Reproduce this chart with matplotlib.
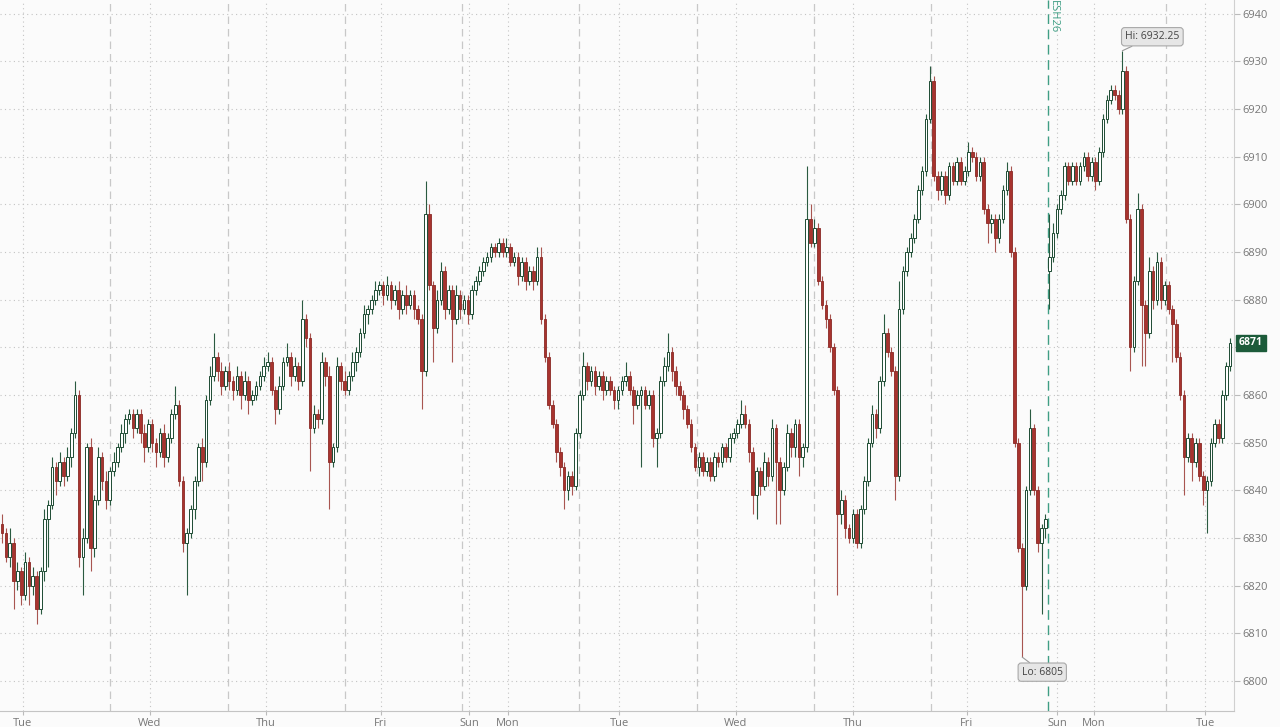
import numpy as np
import matplotlib.pyplot as plt

plt.rcParams['font.family'] = ['Open Sans', 'DejaVu Sans']

# closing prices, one per candle (10 per row)
closes = [
    6831, 6826, 6829, 6821, 6823, 6818, 6825, 6820, 6822, 6815,
    6823, 6834, 6837, 6845, 6842, 6846, 6843, 6847, 6852, 6860,
    6826, 6830, 6849, 6828, 6838, 6847, 6842, 6838, 6844, 6846,
    6849, 6852, 6855, 6856, 6853, 6856, 6852, 6849, 6854, 6850,
    6848, 6852, 6847, 6851, 6856, 6858, 6842, 6829, 6831, 6836,
    6842, 6849, 6846, 6859, 6864, 6868, 6865, 6862, 6865, 6863,
    6861, 6864, 6860, 6863, 6859, 6860, 6862, 6864, 6866, 6867,
    6861, 6857, 6862, 6867, 6868, 6864, 6866, 6863, 6876, 6872,
    6853, 6856, 6855, 6867, 6864, 6846, 6849, 6866, 6863, 6861,
    6864, 6867, 6869, 6873, 6877, 6878, 6880, 6882, 6883, 6881,
    6883, 6880, 6882, 6878, 6881, 6879, 6881, 6878, 6876, 6865,
    6898, 6883, 6874, 6880, 6886, 6878, 6882, 6876, 6881, 6878,
    6880, 6877, 6882, 6884, 6886, 6888, 6889, 6891, 6890, 6892,
    6890, 6891, 6888, 6889, 6885, 6888, 6884, 6886, 6884, 6889,
    6876, 6868, 6858, 6854, 6848, 6845, 6840, 6843, 6841, 6852,
    6860, 6866, 6863, 6865, 6862, 6864, 6861, 6863, 6861, 6859,
    6861, 6863, 6864, 6861, 6858, 6860, 6861, 6858, 6860, 6851,
    6852, 6863, 6866, 6869, 6865, 6862, 6860, 6857, 6854, 6849,
    6845, 6847, 6844, 6846, 6843, 6847, 6846, 6849, 6847, 6851,
    6852, 6854, 6856, 6854, 6848, 6839, 6844, 6841, 6846, 6843,
    6853, 6846, 6840, 6845, 6852, 6849, 6854, 6847, 6849, 6897,
    6892, 6895, 6884, 6879, 6876, 6870, 6861, 6835, 6838, 6832,
    6830, 6835, 6829, 6836, 6842, 6850, 6856, 6853, 6863, 6873,
    6869, 6865, 6843, 6878, 6886, 6890, 6893, 6897, 6903, 6907,
    6918, 6926, 6906, 6903, 6906, 6902, 6908, 6905, 6909, 6905,
    6907, 6911, 6910, 6906, 6909, 6899, 6896, 6897, 6893, 6897,
    6903, 6907, 6890, 6850, 6828, 6820, 6840, 6853, 6840, 6829,
    6832, 6834, 6889, 6894, 6899, 6902, 6908, 6905, 6908, 6905,
    6908, 6910, 6906, 6909, 6905, 6911, 6918, 6922, 6924, 6923,
    6920, 6928, 6897, 6870, 6884, 6899, 6879, 6873, 6886, 6880,
    6888, 6880, 6883, 6878, 6875, 6868, 6860, 6847, 6851, 6846,
    6850, 6843, 6840, 6842, 6850, 6854, 6851, 6860, 6866, 6871,
]

# upper / lower wick length above / below the body, in points
wick_up = [
    2, 1, 3, 1, 2, 1, 2, 1, 2, 1,
    1, 2, 1, 2, 1, 2, 1, 2, 1, 3,
    1, 2, 1, 2, 1, 2, 1, 2, 1, 2,
    1, 2, 1, 1, 1, 1, 1, 2, 1, 1,
    1, 1, 2, 1, 1, 4, 1, 1, 1, 1,
    1, 1, 2, 1, 2, 5, 1, 2, 1, 2,
    1, 2, 1, 2, 1, 1, 1, 1, 2, 2,
    1, 1, 2, 1, 3, 1, 2, 1, 4, 1,
    1, 2, 1, 2, 1, 2, 1, 2, 1, 2,
    1, 2, 1, 1, 2, 1, 1, 2, 1, 1,
    2, 1, 1, 2, 1, 2, 1, 1, 1, 1,
    7, 2, 1, 2, 2, 1, 1, 1, 2, 1,
    1, 1, 1, 1, 1, 1, 1, 1, 1, 1,
    1, 2, 1, 1, 1, 1, 1, 1, 1, 2,
    2, 1, 1, 1, 1, 1, 1, 1, 1, 1,
    1, 3, 1, 1, 1, 1, 1, 1, 1, 1,
    1, 1, 3, 1, 1, 1, 1, 1, 1, 1,
    1, 1, 2, 4, 1, 1, 1, 1, 1, 1,
    1, 1, 1, 1, 1, 1, 1, 1, 1, 1,
    1, 1, 3, 2, 1, 1, 1, 1, 2, 1,
    2, 1, 1, 1, 2, 1, 1, 1, 1, 11,
    3, 2, 1, 1, 1, 1, 1, 1, 2, 1,
    1, 1, 1, 1, 1, 1, 2, 1, 1, 4,
    1, 1, 1, 6, 1, 1, 1, 1, 1, 1,
    1, 3, 1, 1, 1, 1, 1, 1, 1, 1,
    1, 2, 1, 1, 1, 1, 1, 1, 1, 1,
    1, 2, 1, 1, 1, 1, 1, 4, 1, 1,
    1, 1, 9, 2, 1, 1, 1, 1, 1, 1,
    1, 1, 1, 1, 1, 1, 1, 1, 1, 1,
    1, 4.25, 1, 1, 1, 3.5, 1, 1, 3, 1,
    2, 1, 1, 1, 1, 1, 1, 1, 1, 1,
    1, 1, 1, 1, 1, 1, 1, 1, 1, 1,
]
wick_dn = [
    2, 1, 2, 6, 2, 2, 1, 4, 2, 3,
    1, 2, 10, 1, 3, 1, 2, 1, 2, 1,
    2, 8, 1, 5, 2, 1, 2, 2, 1, 1,
    1, 1, 2, 1, 2, 1, 2, 3, 1, 2,
    3, 1, 2, 1, 1, 1, 1, 2, 11, 1,
    2, 1, 4, 1, 1, 1, 2, 2, 1, 2,
    2, 1, 3, 1, 3, 1, 1, 1, 1, 1,
    1, 3, 1, 1, 1, 2, 1, 2, 1, 2,
    9, 1, 2, 1, 2, 10, 1, 1, 2, 1,
    1, 1, 2, 1, 1, 2, 1, 1, 1, 2,
    1, 2, 1, 2, 1, 2, 1, 2, 1, 8,
    1, 1, 7, 1, 1, 2, 1, 9, 1, 2,
    1, 2, 1, 1, 1, 1, 1, 1, 1, 1,
    1, 1, 1, 1, 2, 1, 2, 1, 2, 1,
    1, 1, 1, 1, 2, 2, 4, 2, 2, 1,
    1, 1, 2, 1, 2, 1, 2, 1, 1, 2,
    2, 1, 1, 1, 4, 1, 15, 1, 1, 2,
    6, 1, 1, 1, 2, 2, 1, 2, 1, 1,
    1, 2, 1, 1, 1, 1, 1, 1, 1, 1,
    1, 1, 1, 1, 2, 4, 5, 2, 1, 2,
    1, 13, 7, 1, 1, 2, 2, 4, 2, 1,
    1, 1, 1, 1, 2, 1, 1, 17, 2, 2,
    1, 1, 1, 1, 1, 1, 1, 2, 1, 1,
    1, 1, 5, 1, 1, 1, 1, 1, 1, 1,
    1, 1, 1, 2, 1, 2, 1, 1, 1, 1,
    1, 1, 1, 1, 1, 1, 4, 2, 3, 1,
    1, 1, 1, 1, 1, 15, 1, 1, 1, 2,
    15, 2, 8, 1, 1, 1, 1, 1, 1, 1,
    1, 1, 1, 1, 2, 1, 1, 1, 1, 1,
    1, 1, 1, 5, 1, 1, 13, 7, 1, 2,
    1, 2, 1, 1, 8, 1, 1, 8, 1, 4,
    1, 1, 3, 9, 1, 1, 1, 1, 1, 1,
]

first_open = 6833
gap_opens = {272: 6886}   # new contract opens with a gap

day_labels = ['Tue', 'Wed', 'Thu', 'Fri', 'Sun', 'Mon', 'Tue', 'Wed', 'Thu', 'Fri', 'Sun', 'Mon', 'Tue']
day_pos = [5.45, 38.4, 68.6, 98.4, 121.3, 131.4, 160.3, 190.6, 221.0, 250.6, 274.0, 283.6, 312.5]
session_pos = [28.05, 58.7, 89.1, 119.5, 149.9, 180.5, 210.9, 241.3, 302.3]
roll_pos = 271.7
roll_label = 'ESH26'
y_ticks = list(range(6800, 6941, 10))

UP_EDGE = '#1d4a32'
UP_WICK = '#2a5a40'
DN_FACE = '#a8332e'
DN_EDGE = '#8a2925'
DN_WICK = '#a85550'
BG = '#fbfbfb'

closes = np.array(closes, dtype=float)
opens = np.r_[first_open, closes[:-1]]
for k, v in gap_opens.items():
    opens[k] = v
highs = np.maximum(opens, closes) + np.array(wick_up)
lows = np.minimum(opens, closes) - np.array(wick_dn)
x = np.arange(len(closes))
up = closes >= opens
dn = ~up

fig = plt.figure(figsize=(12.8, 7.27), dpi=100, facecolor=BG)
ax = fig.add_axes([0.0, 16 / 727, 1234 / 1280, 711 / 727])
ax.set_facecolor(BG)

# session separators and the contract roll line
for p in session_pos:
    ax.axvline(p, color='#c8c8c8', lw=0.9, ls=(0, (6, 4)), zorder=1)
ax.axvline(roll_pos, color='#3f9e84', lw=1.0, ls=(0, (7, 4)), zorder=1)
ax.text(roll_pos + 1.5, 6942.8, roll_label, rotation=270, ha='center', va='top',
        color='#3f9e84', fontsize=8)

# wicks
ax.vlines(x[up], lows[up], highs[up], color=UP_WICK, lw=0.8, zorder=2)
ax.vlines(x[dn], lows[dn], highs[dn], color=DN_WICK, lw=0.8, zorder=2)

# bodies
w = 0.68
ax.bar(x[up], np.maximum(closes - opens, 0.3)[up], bottom=opens[up], width=w,
       color='white', edgecolor=UP_EDGE, linewidth=0.7, zorder=3)
ax.bar(x[dn], (opens - closes)[dn], bottom=closes[dn], width=w,
       color=DN_FACE, edgecolor=DN_EDGE, linewidth=0.6, zorder=3)

ax.set_xlim(-0.52, 320.0)
ax.set_ylim(6793.7, 6942.9)

ax.set_yticks(y_ticks)
ax.yaxis.tick_right()
ax.set_xticks(day_pos)
ax.set_xticklabels(day_labels)
ax.grid(True, ls=(0, (1, 3)), color='#c4c4c4', lw=0.8, zorder=0)
ax.tick_params(axis='y', length=4, color='#bbbbbb', labelsize=8, labelcolor='#777777', pad=2)
ax.tick_params(axis='x', length=3, color='#bbbbbb', labelsize=8, labelcolor='#777777', pad=2)
for s in ['top', 'left']:
    ax.spines[s].set_visible(False)
ax.spines['right'].set_color('#d0d0d0')
ax.spines['bottom'].set_color('#c4c4c4')

# high / low call-outs
ih = int(np.argmax(highs))
il = int(np.argmin(lows))
box = dict(boxstyle='round,pad=0.35,rounding_size=0.3', fc='#e6e6e6', ec='#a8a8a8', lw=0.8)
ax.annotate(f'Hi: {highs[ih]:.2f}', xy=(x[ih], highs[ih]), xytext=(30, 14),
            textcoords='offset pixels', ha='center', va='center', fontsize=7.5,
            color='#444444', bbox=box,
            arrowprops=dict(arrowstyle='-', color='#999999', lw=0.8, shrinkA=0, shrinkB=0))
ax.annotate(f'Lo: {lows[il]:g}', xy=(x[il], lows[il]), xytext=(20, -15),
            textcoords='offset pixels', ha='center', va='center', fontsize=7.5,
            color='#444444', bbox=box,
            arrowprops=dict(arrowstyle='-', color='#999999', lw=0.8, shrinkA=0, shrinkB=0))

# last price tag (sits over the 6870 tick label, as in the source chart)
ax.annotate(f'{closes[-1]:g}', xy=(1.0, closes[-1]), xycoords=('axes fraction', 'data'),
            xytext=(5, 0), textcoords='offset pixels', ha='left', va='center',
            fontsize=7.5, color='white', fontweight='bold', zorder=10,
            bbox=dict(boxstyle='square,pad=0.25', fc='#1c5b3a', ec='#1c5b3a'))

fig.savefig('out.png', dpi=100, facecolor=BG)
